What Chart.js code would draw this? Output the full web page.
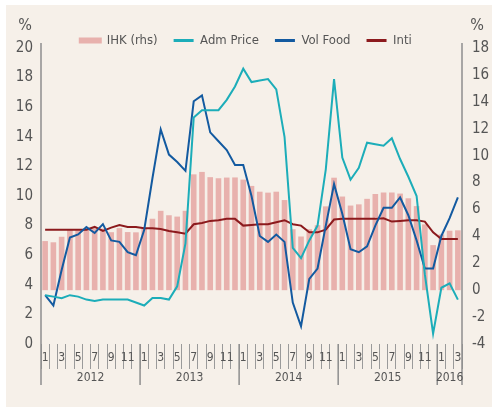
<!DOCTYPE html>
<html>
<head>
<meta charset="utf-8">
<script src="https://cdn.jsdelivr.net/npm/chart.js@4.4.1/dist/chart.umd.min.js"></script>
<style>
  html, body { margin: 0; padding: 0; background: #fff; }
  #wrap { position: relative; width: 492px; height: 407px; }
  #bg { position: absolute; left: 6px; top: 5px; right: 0; bottom: 0; background: #f6f0e9; }
  canvas { position: absolute; left: 0; top: 0; }
</style>
</head>
<body>
<div id="wrap"><div id="bg"></div><canvas id="grafik" width="492" height="407"></canvas></div>
<script>
// Jan 2012 - Mar 2016, yoy %
const bulan = [
  '1','2','3','4','5','6','7','8','9','10','11','12',
  '1','2','3','4','5','6','7','8','9','10','11','12',
  '1','2','3','4','5','6','7','8','9','10','11','12',
  '1','2','3','4','5','6','7','8','9','10','11','12',
  '1','2','3'
];
const tahun = ['2012', '2013', '2014', '2015', '2016'];

// IHK (rhs)
const ihk = [
  3.65, 3.56, 3.97, 4.50, 4.45, 4.53, 4.56, 4.58, 4.31, 4.61, 4.32, 4.30,
  4.57, 5.31, 5.90, 5.57, 5.47, 5.90, 8.61, 8.79, 8.40, 8.32, 8.37, 8.38,
  8.22, 7.75, 7.32, 7.25, 7.32, 6.70, 4.53, 3.99, 4.53, 4.83, 6.23, 8.36,
  6.96, 6.29, 6.38, 6.79, 7.15, 7.26, 7.26, 7.18, 6.83, 6.25, 4.89, 3.35,
  4.14, 4.42, 4.45
];
const admPrice = [
  3.3, 3.2, 3.1, 3.3, 3.2, 3.0, 2.9, 3.0, 3.0, 3.0, 3.0, 2.8,
  2.6, 3.1, 3.1, 3.0, 3.9, 6.8, 15.3, 15.8, 15.8, 15.8, 16.5, 17.4,
  18.6, 17.7, 17.8, 17.9, 17.2, 14.0, 6.5, 5.8, 7.0, 8.0, 11.8, 17.9,
  12.6, 11.1, 11.9, 13.6, 13.5, 13.4, 13.9, 12.5, 11.3, 10.0, 4.7, 0.7,
  3.8, 4.1, 3.0
];
const volFood = [
  3.3, 2.6, 5.0, 7.2, 7.4, 7.9, 7.5, 8.1, 7.0, 6.9, 6.2, 6.0,
  7.7, 11.2, 14.5, 12.8, 12.3, 11.7, 16.4, 16.8, 14.3, 13.7, 13.1, 12.1,
  12.1, 10.0, 7.3, 6.9, 7.4, 6.9, 2.8, 1.2, 4.4, 5.1, 8.0, 10.8,
  8.8, 6.4, 6.2, 6.6, 8.0, 9.2, 9.2, 9.9, 8.7, 7.0, 5.1, 5.1,
  7.3, 8.5, 9.9
];
// Inti (rhs scale)
const inti = [
  4.5, 4.5, 4.5, 4.5, 4.5, 4.5, 4.7, 4.4, 4.65, 4.85, 4.7, 4.7,
  4.6, 4.6, 4.55, 4.4, 4.3, 4.2, 4.9, 5.0, 5.15, 5.2, 5.3, 5.3,
  4.8, 4.85, 4.9, 4.9, 5.05, 5.2, 4.9, 4.8, 4.3, 4.3, 4.5, 5.25,
  5.3, 5.3, 5.3, 5.3, 5.3, 5.35, 5.1, 5.15, 5.2, 5.2, 5.1, 4.3,
  3.8, 3.8, 3.8
];

const FONT = "'Liberation Sans Narrow', 'DejaVu Sans Condensed', 'Liberation Sans', sans-serif";
const ABU = '#555';

// garis sumbu, pemisah tahun, label tahun dan tanda %
const hiasan = {
  id: 'hiasan',
  afterDraw(chart) {
    const { ctx, chartArea: a, scales: { x } } = chart;
    const bawah = a.bottom + 41;
    const lebar = (a.right - a.left) / bulan.length;
    ctx.save();
    ctx.strokeStyle = '#8e8e8e';
    ctx.lineWidth = 1.5;
    [a.left, a.right].forEach(px => {
      ctx.beginPath();
      ctx.moveTo(px, a.top - 5);
      ctx.lineTo(px, bawah);
      ctx.stroke();
    });
    ctx.fillStyle = ABU;
    ctx.textAlign = 'center';
    ctx.textBaseline = 'middle';
    ctx.font = '12px ' + FONT;
    tahun.forEach((th, k) => {
      const awal = k * 12;
      const akhir = Math.min(awal + 11, bulan.length - 1);
      if (k > 0) {
        const xs = x.getPixelForValue(awal) - lebar / 2;
        ctx.beginPath();
        ctx.moveTo(xs, a.bottom);
        ctx.lineTo(xs, bawah);
        ctx.stroke();
      }
      const tengah = (x.getPixelForValue(awal) + x.getPixelForValue(akhir)) / 2;
      ctx.fillText(th, tengah, a.bottom + 34);
    });
    ctx.font = '16px ' + FONT;
    ctx.fillText('%', a.left - 16, 26);
    ctx.fillText('%', a.right + 15, 26);
    ctx.restore();
  }
};

const ctx = document.getElementById('grafik').getContext('2d');
const grafik = new Chart(ctx, {
  type: 'bar',
  data: {
    labels: bulan,
    datasets: [
      {
        type: 'bar',
        label: 'IHK (rhs)',
        data: ihk,
        yAxisID: 'yKanan',
        backgroundColor: '#e8b1ad',
        borderWidth: 0,
        barPercentage: 0.68,
        categoryPercentage: 1,
        order: 2
      },
      {
        type: 'line',
        label: 'Adm Price',
        data: admPrice,
        yAxisID: 'yKiri',
        borderColor: '#1cadb9',
        backgroundColor: '#1cadb9',
        borderWidth: 2,
        pointRadius: 0,
        tension: 0,
        order: 1
      },
      {
        type: 'line',
        label: 'Vol Food',
        data: volFood,
        yAxisID: 'yKiri',
        borderColor: '#135aa0',
        backgroundColor: '#135aa0',
        borderWidth: 2,
        pointRadius: 0,
        tension: 0,
        order: 1
      },
      {
        type: 'line',
        label: 'Inti',
        data: inti,
        yAxisID: 'yKanan',
        borderColor: '#8c1a1d',
        backgroundColor: '#8c1a1d',
        borderWidth: 2,
        pointRadius: 0,
        tension: 0,
        order: 1
      }
    ]
  },
  options: {
    responsive: false,
    animation: false,
    layout: { padding: { top: 18, left: 0, right: 0, bottom: 0 } },
    plugins: {
      tooltip: { enabled: false },
      legend: {
        position: 'top',
        labels: {
          color: ABU,
          font: { family: FONT, size: 13 },
          boxWidth: 20,
          boxHeight: 3,
          padding: 16,
          sort: (a, b) => a.datasetIndex - b.datasetIndex,
          generateLabels(chart) {
            const items = Chart.defaults.plugins.legend.labels.generateLabels(chart);
            items.forEach(it => {
              const ds = chart.data.datasets[it.datasetIndex];
              const warna = ds.type === 'bar' ? ds.backgroundColor : ds.borderColor;
              it.fillStyle = warna;
              it.strokeStyle = warna;
              it.lineWidth = ds.type === 'bar' ? 3 : 0;
            });
            return items;
          }
        }
      }
    },
    scales: {
      x: {
        offset: true,
        border: { display: false },
        grid: {
          offset: true,
          drawOnChartArea: false,
          drawTicks: true,
          tickLength: 25,
          tickColor: '#9a9a9a',
          tickWidth: 1
        },
        ticks: {
          autoSkip: false,
          maxRotation: 0,
          padding: -18,
          color: ABU,
          font: { family: FONT, size: 12 },
          callback: function (val) {
            const m = this.getLabelForValue(val);
            return (+m % 2 === 1) ? m : '';
          }
        },
        afterFit(scale) { scale.height = 63; }
      },
      yKiri: {
        position: 'left',
        min: 0,
        max: 20,
        border: { display: false },
        grid: { display: false, drawTicks: false },
        ticks: {
          stepSize: 2,
          padding: 8,
          color: ABU,
          font: { family: FONT, size: 15 }
        },
        afterFit(scale) { scale.width = 41; }
      },
      yKanan: {
        position: 'right',
        min: -4,
        max: 18,
        border: { display: false },
        grid: { display: false, drawTicks: false },
        ticks: {
          stepSize: 2,
          padding: 10,
          color: ABU,
          font: { family: FONT, size: 15 }
        },
        afterFit(scale) { scale.width = 30; }
      }
    }
  },
  plugins: [
    hiasan,
    {
      id: 'tinggiLegenda',
      beforeInit(chart) {
        const asli = chart.legend.fit;
        chart.legend.fit = function () {
          asli.call(this);
          this.height = 30;
        };
      }
    }
  ]
});
</script>
</body>
</html>
